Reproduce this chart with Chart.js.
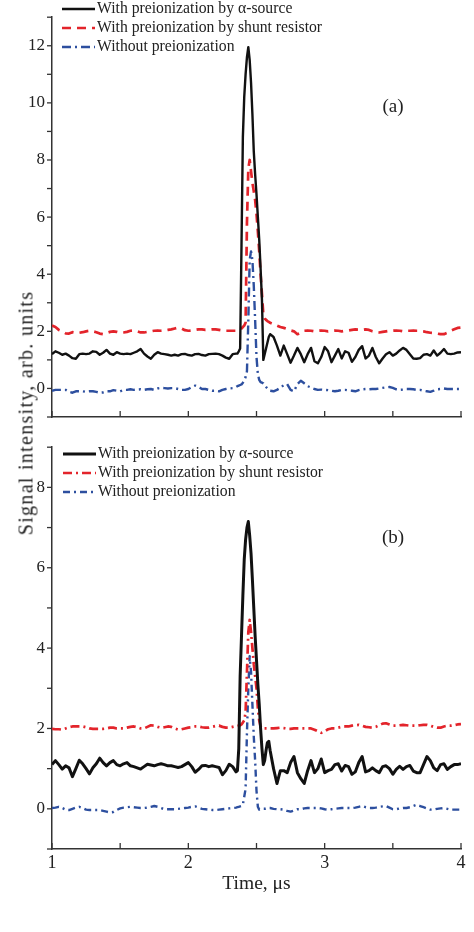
<!DOCTYPE html>
<html lang="en">
<head>
    <meta charset="UTF-8">
    <title>Signal intensity vs time</title>
    <script src="https://cdn.jsdelivr.net/npm/chart.js"></script>
    <style>
        body {
            margin: 0;
            background: #ffffff;
            font-family: 'Liberation Serif', serif;
        }
        #page {
            position: relative;
            width: 474px;
            height: 932px;
        }
        .panel {
            position: absolute;
            left: 0;
            width: 474px;
        }
        #panelA { top: 0; height: 440px; }
        #panelB { top: 430px; height: 502px; }
        #ytitle {
            position: absolute;
            left: 26px;
            top: 413px;
            transform: translate(-50%, -50%) rotate(-90deg);
            white-space: nowrap;
            font-size: 20px;
            letter-spacing: 1.3px;
            color: #222;
        }
    </style>
</head>
<body>
<div id="page">
    <div class="panel" id="panelA"><canvas id="chartA"></canvas></div>
    <div class="panel" id="panelB"><canvas id="chartB"></canvas></div>
    <div id="ytitle">Signal intensity, arb. units</div>
</div>

<script>
    // time, µs (denser sampling around the pulse)
    const time = [
        1.000,1.025,1.050,1.075,1.100,1.125,1.150,1.175,1.200,1.225,1.250,1.275,1.300,1.325,1.350,1.375,1.400,1.425,1.450,1.475,1.500,1.525,1.550,1.575,1.600,1.625,1.650,1.675,1.700,1.725,1.750,1.775,1.800,1.825,1.850,1.875,1.900,1.925,1.950,1.975,2.000,2.025,2.050,2.075,2.100,2.125,2.150,2.175,2.200,2.225,2.250,2.275,2.300,2.325,2.350,
        2.36,2.37,2.38,2.39,2.40,2.41,2.42,2.43,2.44,2.45,2.46,2.47,2.48,2.49,2.50,2.51,2.52,2.53,2.54,2.55,2.56,2.57,2.58,2.59,2.60,
        2.625,2.65,2.675,2.7,2.725,2.75,2.775,2.8,2.825,2.85,2.875,2.9,2.925,2.95,2.975,3.0,3.025,3.05,3.075,3.1,3.125,3.15,3.175,3.2,3.225,3.25,3.275,3.3,3.325,3.35,3.375,3.4,3.425,3.45,3.475,3.5,3.525,3.55,3.575,3.6,3.625,3.65,3.675,3.7,3.725,3.75,3.775,3.8,3.825,3.85,3.875,3.9,3.925,3.95,3.975,4.0
    ];

    const seriesLabels = [
        "With preionization by \u03b1-source",
        "With preionization by shunt resistor",
        "Without preionization"
    ];

    // panel (a)
    const alphaA = [
        1.2,1.3,1.25,1.18,1.22,1.15,1.06,1.04,1.2,1.22,1.2,1.22,1.3,1.28,1.18,1.25,1.35,1.22,1.18,1.27,1.22,1.2,1.22,1.2,1.25,1.3,1.38,1.22,1.12,1.04,1.18,1.27,1.22,1.2,1.18,1.15,1.18,1.15,1.2,1.21,1.17,1.15,1.2,1.21,1.17,1.15,1.2,1.21,1.22,1.2,1.15,1.08,1.04,1.2,1.22,
        1.22,1.3,1.4,5.0,8.8,10.2,11.0,11.6,11.95,11.5,10.7,9.6,8.3,7.5,6.8,6.0,5.2,4.2,3.1,1.0,1.2,1.4,1.6,1.8,1.9,
        1.8,1.5,1.15,1.5,1.2,0.9,1.15,1.42,1.2,0.92,1.2,1.42,0.95,0.88,1.1,1.45,1.3,0.92,1.15,1.38,1.05,1.3,1.25,0.93,1.1,1.35,1.48,1.05,1.15,1.42,1.1,0.88,1.05,1.2,1.27,1.15,1.22,1.33,1.42,1.35,1.2,1.05,1.04,1.06,1.18,1.2,1.15,1.33,1.15,1.25,1.38,1.22,1.2,1.22,1.26,1.27
    ];
    const shuntA = [
        2.2,2.15,2.05,2.0,1.93,1.92,1.97,1.95,1.95,1.97,2.0,2.02,2.0,1.97,1.92,1.9,1.94,1.98,2.0,1.98,1.95,1.96,1.98,2.02,2.03,2.0,1.96,1.96,1.98,2.0,2.02,2.03,2.02,2.03,2.05,2.07,2.1,2.13,2.1,2.04,2.02,2.03,2.05,2.07,2.07,2.05,2.06,2.07,2.07,2.05,2.03,2.02,2.02,2.02,2.02,
        2.02,2.03,2.05,2.1,2.15,2.2,2.3,5.8,7.7,8.0,7.6,7.2,6.9,6.6,6.1,5.5,4.8,4.0,3.3,2.6,2.45,2.4,2.36,2.33,2.3,
        2.25,2.2,2.15,2.12,2.08,2.03,2.0,1.9,1.95,2.02,2.03,2.02,2.0,2.02,2.03,2.02,2.0,2.02,2.03,2.02,2.0,2.02,2.03,2.05,2.07,2.06,2.05,2.07,2.05,2.0,1.97,1.96,1.98,2.0,2.02,2.02,2.03,2.02,2.0,2.02,2.02,2.03,2.02,2.02,2.0,1.97,1.95,1.94,1.92,1.9,1.9,1.95,2.02,2.07,2.12,2.13
    ];
    const noneA = [
        -0.08,-0.05,-0.05,-0.05,-0.05,-0.12,-0.15,-0.1,-0.1,-0.1,-0.12,-0.1,-0.1,-0.12,-0.15,-0.14,-0.1,-0.1,-0.06,-0.08,-0.1,-0.05,-0.05,-0.03,-0.05,-0.04,-0.03,-0.05,-0.03,-0.02,-0.05,0.0,0.02,0.01,0.0,0.01,0.01,-0.02,-0.05,-0.05,-0.02,0.05,0.1,0.05,-0.02,-0.02,-0.05,-0.08,-0.08,-0.1,-0.05,-0.02,0.0,0.01,0.05,
        0.08,0.1,0.12,0.14,0.2,0.28,0.4,0.6,2.4,4.5,4.8,4.5,3.6,2.4,1.1,0.5,0.3,0.22,0.2,0.18,0.12,0.05,0.0,-0.05,-0.08,
        -0.1,-0.05,0.02,0.12,0.15,-0.05,-0.1,0.15,0.27,0.18,0.08,0.03,-0.02,-0.05,-0.04,-0.05,-0.06,-0.08,-0.1,-0.08,-0.05,-0.05,-0.07,-0.08,-0.1,-0.06,-0.03,-0.02,-0.03,-0.02,-0.02,0.0,0.02,0.04,0.05,0.02,-0.03,-0.05,-0.04,-0.02,-0.02,-0.03,-0.05,-0.05,-0.08,-0.1,-0.12,-0.08,-0.03,-0.02,0.0,-0.02,-0.02,-0.02,-0.02,-0.02
    ];

    // panel (b)
    const alphaB = [
        1.1,1.2,1.1,0.99,1.07,1.02,0.8,1.0,1.21,1.12,1.0,0.87,1.02,1.12,1.26,1.15,1.07,1.15,1.2,1.1,1.07,1.12,1.15,1.07,1.05,1.02,0.99,1.05,1.11,1.09,1.07,1.1,1.12,1.1,1.07,1.07,1.05,1.03,1.05,1.1,1.15,1.05,0.91,0.98,1.07,1.08,1.05,1.07,1.05,1.03,0.85,0.95,1.11,1.05,0.92,
        0.95,1.5,3.3,4.3,5.3,6.2,6.7,7.0,7.15,6.8,6.35,5.7,5.0,4.3,3.7,3.1,2.6,2.0,1.5,1.1,1.2,1.45,1.65,1.68,1.45,
        1.0,0.63,0.95,0.95,0.9,1.15,1.3,0.9,0.75,0.63,0.95,1.2,0.9,1.0,1.24,0.9,0.95,0.98,1.1,1.12,0.94,1.08,1.05,0.86,0.92,1.15,1.3,0.92,0.95,1.02,0.95,0.9,1.05,1.07,1.0,0.86,0.98,1.06,0.98,1.05,1.08,0.94,0.9,0.9,1.1,1.3,1.2,1.02,0.95,1.1,1.12,0.98,1.05,1.1,1.1,1.12
    ];
    const shuntB = [
        1.99,1.98,1.98,1.97,2.0,2.03,2.05,2.05,2.05,2.05,2.03,2.0,1.99,1.99,1.99,1.99,2.0,2.02,2.02,2.0,2.0,2.0,2.02,2.04,2.05,2.03,2.0,2.0,2.04,2.08,2.07,2.04,2.02,2.03,2.05,2.04,2.0,1.97,1.98,2.0,2.02,2.03,2.05,2.05,2.03,2.02,2.02,2.04,2.06,2.07,2.04,2.02,2.02,2.04,2.06,
        2.06,2.07,2.08,2.1,2.15,2.2,2.4,3.4,4.4,4.7,4.4,4.0,3.6,3.3,3.0,2.5,2.2,2.05,2.0,2.0,2.0,2.0,2.0,2.0,2.0,
        2.0,2.01,2.02,2.01,1.99,1.99,2.0,2.0,2.0,2.0,2.0,2.0,1.97,1.93,1.89,1.93,1.98,2.0,2.0,2.02,2.04,2.05,2.05,2.07,2.08,2.09,2.07,2.04,2.03,2.02,2.04,2.08,2.12,2.13,2.1,2.07,2.07,2.08,2.09,2.08,2.07,2.07,2.07,2.08,2.09,2.09,2.07,2.04,2.02,2.02,2.05,2.07,2.07,2.08,2.1,2.11
    ];
    const noneB = [
        0.02,0.03,0.05,0.02,-0.02,-0.03,0.0,0.03,0.05,0.02,-0.02,-0.03,-0.03,-0.03,-0.03,-0.05,-0.07,-0.09,-0.08,-0.03,0.01,0.03,0.04,0.05,0.04,0.03,0.02,0.02,0.03,0.05,0.07,0.05,0.02,-0.01,-0.01,-0.01,-0.01,0.0,0.01,0.02,0.03,0.05,0.06,0.03,0.0,-0.01,-0.02,-0.03,-0.03,-0.02,-0.01,0.0,0.01,0.02,0.03,
        0.04,0.05,0.06,0.07,0.1,0.3,0.5,1.9,3.0,3.8,3.4,2.6,1.8,1.2,0.45,0.05,-0.02,-0.01,0.0,0.0,0.0,0.01,0.02,0.02,0.02,
        0.0,-0.01,-0.01,-0.02,-0.05,-0.07,-0.04,-0.01,-0.01,0.01,0.02,0.02,0.02,0.02,0.01,-0.01,-0.02,-0.01,0.0,0.01,0.02,0.02,0.02,0.02,0.03,0.05,0.07,0.04,0.02,0.02,0.03,0.05,0.06,0.07,0.03,-0.01,-0.01,0.01,0.02,0.02,0.04,0.07,0.1,0.07,0.04,0.01,-0.02,-0.02,0.0,0.01,0.02,0.0,-0.02,-0.02,-0.02,-0.02
    ];

    const BLACK = "#111111";
    const RED = "#e3242b";
    const BLUE = "#2d4f9f";
    const TEXT = "#222222";
    const FONT = "'Liberation Serif', serif";

    function points(values) {
        return time.map((t, i) => ({ x: t, y: values[i] }));
    }

    // tick marks, legend with line samples, panel tag
    const decor = {
        id: "decor",
        afterDraw(chart, args, opts) {
            const ctx = chart.ctx;
            const x = chart.scales.x, y = chart.scales.y;
            ctx.save();
            ctx.strokeStyle = "#333";
            ctx.lineWidth = 1.3;
            y.ticks.forEach(t => {
                const py = y.getPixelForValue(t.value);
                ctx.beginPath();
                ctx.moveTo(x.left - 5, py);
                ctx.lineTo(x.left, py);
                ctx.stroke();
            });
            x.ticks.forEach(t => {
                const px = x.getPixelForValue(t.value);
                ctx.beginPath();
                ctx.moveTo(px, y.bottom);
                ctx.lineTo(px, y.bottom - 6);
                ctx.stroke();
            });

            chart.data.datasets.forEach((ds, i) => {
                const ly = opts.top + i * opts.gap;
                ctx.strokeStyle = ds.borderColor;
                ctx.lineWidth = ds.borderWidth;
                ctx.setLineDash(ds.borderDash || []);
                ctx.beginPath();
                ctx.moveTo(opts.left, ly);
                ctx.lineTo(opts.left + 33, ly);
                ctx.stroke();
                ctx.setLineDash([]);
                ctx.fillStyle = TEXT;
                ctx.font = "15.7px " + FONT;
                ctx.textBaseline = "middle";
                ctx.fillText(ds.label, opts.left + 35, ly);
            });

            ctx.font = "19px " + FONT;
            ctx.textAlign = "center";
            ctx.textBaseline = "middle";
            ctx.fillStyle = TEXT;
            ctx.fillText(opts.tag, opts.tagX, opts.tagY);
            ctx.restore();
        }
    };

    function makeChart(id, cfg) {
        const ctx = document.getElementById(id).getContext("2d");
        return new Chart(ctx, {
            type: "line",
            data: {
                datasets: [
                    { label: seriesLabels[0], data: points(cfg.alpha), borderColor: BLACK, borderWidth: cfg.blackWidth, borderDash: [] },
                    { label: seriesLabels[1], data: points(cfg.shunt), borderColor: RED, borderWidth: 2.7, borderDash: cfg.redDash },
                    { label: seriesLabels[2], data: points(cfg.none), borderColor: BLUE, borderWidth: 2.4, borderDash: cfg.blueDash }
                ]
            },
            options: {
                responsive: true,
                maintainAspectRatio: false,
                animation: false,
                layout: { padding: { left: 0, right: 13, top: cfg.padTop, bottom: cfg.padBottom } },
                elements: {
                    point: { radius: 0 },
                    line: { tension: 0, borderJoinStyle: "round", fill: false }
                },
                scales: {
                    x: {
                        type: "linear",
                        min: 1,
                        max: 4,
                        grid: { display: false, drawTicks: false },
                        border: { display: true, color: "#333", width: 1.5 },
                        ticks: {
                            stepSize: 0.5,
                            autoSkip: false,
                            maxRotation: 0,
                            padding: 3,
                            color: TEXT,
                            font: { family: FONT, size: 18 },
                            callback: v => (cfg.xLabels && Number.isInteger(v)) ? v : ""
                        },
                        title: {
                            display: cfg.xLabels,
                            text: "Time, \u03bcs",
                            color: TEXT,
                            font: { family: FONT, size: 19.5 },
                            padding: { top: 0 }
                        },
                        afterFit: s => { s.height = cfg.xHeight; }
                    },
                    y: {
                        min: -1,
                        max: cfg.yMax,
                        grid: { display: false, drawTicks: false },
                        border: { display: true, color: "#333", width: 1.5 },
                        ticks: {
                            stepSize: 1,
                            autoSkip: false,
                            padding: 7,
                            color: TEXT,
                            font: { family: FONT, size: 17 },
                            callback: v => (v >= 0 && v % 2 === 0) ? v : ""
                        },
                        afterFit: s => { s.width = 52; }
                    }
                },
                plugins: {
                    legend: { display: false },
                    tooltip: { enabled: false },
                    decor: cfg.decor
                }
            },
            plugins: [decor]
        });
    }

    makeChart("chartA", {
        alpha: alphaA, shunt: shuntA, none: noneA,
        blackWidth: 2.4, redDash: [9, 6], blueDash: [9, 4, 2, 4],
        yMax: 13, padTop: 8, padBottom: 0, xHeight: 23, xLabels: false,
        decor: { left: 62, top: 9, gap: 19, tag: "(a)", tagX: 393, tagY: 107 }
    });

    makeChart("chartB", {
        alpha: alphaB, shunt: shuntB, none: noneB,
        blackWidth: 3, redDash: [9, 4, 2, 4], blueDash: [7, 4, 2, 4],
        yMax: 9, padTop: 10, padBottom: 32, xHeight: 51, xLabels: true,
        decor: { left: 63, top: 24, gap: 19, tag: "(b)", tagX: 393, tagY: 108 }
    });
</script>
</body>
</html>
